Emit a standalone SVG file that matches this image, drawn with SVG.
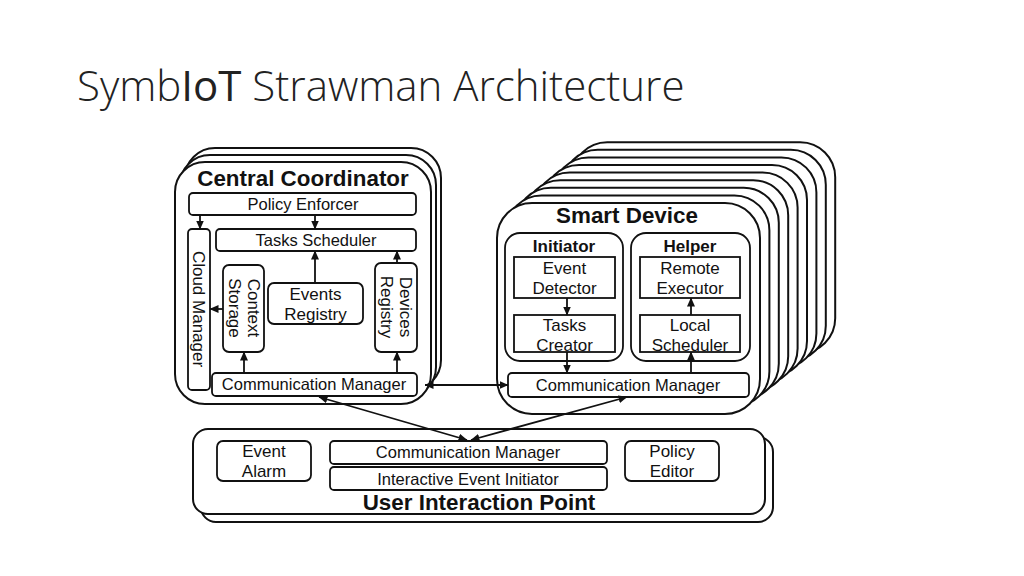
<svg xmlns="http://www.w3.org/2000/svg" width="1024" height="576" viewBox="0 0 1024 576">
<style>
.bg{fill:#fff}
.box{fill:#fff;stroke:#111;stroke-width:2}
.in{fill:#fff;stroke:#111;stroke-width:1.8}
.t{font-family:"Liberation Sans",Arial,sans-serif;font-size:16.5px;fill:#111;text-anchor:middle}
.v{font-size:17px}
.b{font-weight:bold;font-size:22.4px}
.s{font-weight:bold;font-size:17px}
.title{font-family:"Open Sans","Liberation Sans",sans-serif;font-weight:300;font-size:42px;fill:#222}
.c{stroke:#111;stroke-width:1.8;fill:none}
</style>
<defs>
<marker id="ah" markerWidth="9" markerHeight="8" refX="8.5" refY="4" orient="auto-start-reverse" markerUnits="userSpaceOnUse">
<path d="M0,0 L9,4 L0,8 z" fill="#111"/>
</marker>
</defs>
<rect class="bg" width="1024" height="576"/>
<text class="title" x="77" y="101">Symb<tspan font-weight="500">IoT</tspan> Strawman Architecture</text>

<g id="central-coordinator">
<rect class="box" x="185" y="148" width="256" height="242" rx="30"/>
<rect class="box" x="180" y="155" width="256" height="242" rx="30"/>
<rect class="box" x="175" y="162" width="256" height="242" rx="30"/>
<text class="t b" x="303" y="186">Central Coordinator</text>
</g>
<g id="policy-enforcer"><rect class="in" x="189" y="193" width="227" height="22" rx="4"/><text class="t" x="303" y="210">Policy Enforcer</text></g>
<g id="tasks-scheduler"><rect class="in" x="216" y="229" width="200" height="22" rx="4"/><text class="t" x="316" y="246">Tasks Scheduler</text></g>
<g id="cloud-manager"><rect class="in" x="188" y="229" width="22" height="161" rx="4"/><text class="t v" transform="translate(199,309) rotate(90)" y="6">Cloud Manager</text></g>
<g id="context-storage"><rect class="in" x="223" y="265" width="41" height="87" rx="6"/><text class="t v" transform="translate(243.5,308) rotate(90)"><tspan x="0" y="-4">Context</tspan><tspan x="0" y="15">Storage</tspan></text></g>
<g id="events-registry"><rect class="in" x="268" y="283" width="95" height="41" rx="6"/><text class="t v"><tspan x="315.5" y="300">Events</tspan><tspan x="315.5" y="320">Registry</tspan></text></g>
<g id="devices-registry"><rect class="in" x="375" y="263" width="42" height="89" rx="6"/><text class="t v" transform="translate(396,307) rotate(90)"><tspan x="0" y="-4">Devices</tspan><tspan x="0" y="15">Registry</tspan></text></g>
<g id="cc-comm-manager"><rect class="in" x="212" y="373" width="205" height="23" rx="4"/><text class="t" x="314" y="390">Communication Manager</text></g>

<g id="smart-device">
<rect class="box" x="572.2" y="142.2" width="263" height="211" rx="35"/>
<rect class="box" x="562.8" y="149.8" width="263" height="211" rx="35"/>
<rect class="box" x="553.4" y="157.4" width="263" height="211" rx="35"/>
<rect class="box" x="544" y="165" width="263" height="211" rx="35"/>
<rect class="box" x="534.6" y="172.6" width="263" height="211" rx="35"/>
<rect class="box" x="525.2" y="180.2" width="263" height="211" rx="35"/>
<rect class="box" x="515.8" y="187.8" width="263" height="211" rx="35"/>
<rect class="box" x="506.4" y="195.4" width="263" height="211" rx="35"/>
<rect class="box" x="497" y="203" width="263" height="211" rx="35"/>
<text class="t b" x="627" y="223">Smart Device</text>
</g>
<g id="initiator"><rect class="in" x="505" y="233" width="118" height="128" rx="15"/><text class="t s" x="564" y="252">Initiator</text></g>
<g id="event-detector"><rect class="in" x="514" y="257" width="101" height="41"/><text class="t v"><tspan x="564.5" y="274">Event</tspan><tspan x="564.5" y="294">Detector</tspan></text></g>
<g id="tasks-creator"><rect class="in" x="514" y="315" width="101" height="37"/><text class="t v"><tspan x="564.5" y="331">Tasks</tspan><tspan x="564.5" y="351">Creator</tspan></text></g>
<g id="helper"><rect class="in" x="631" y="233" width="119" height="128" rx="15"/><text class="t s" x="690" y="252">Helper</text></g>
<g id="remote-executor"><rect class="in" x="640" y="257" width="100" height="41"/><text class="t v"><tspan x="690" y="274">Remote</tspan><tspan x="690" y="294">Executor</tspan></text></g>
<g id="local-scheduler"><rect class="in" x="640" y="315" width="100" height="37"/><text class="t v"><tspan x="690" y="331">Local</tspan><tspan x="690" y="351">Scheduler</tspan></text></g>
<g id="sd-comm-manager"><rect class="in" x="508" y="373" width="241" height="24" rx="4"/><text class="t" x="628" y="391">Communication Manager</text></g>

<g id="user-interaction-point">
<rect class="box" x="201" y="437" width="572" height="85" rx="15"/>
<rect class="box" x="193" y="429" width="572" height="85" rx="15"/>
<text class="t b" x="479" y="510">User Interaction Point</text>
</g>
<g id="event-alarm"><rect class="in" x="217" y="441" width="94" height="40" rx="6"/><text class="t v"><tspan x="264" y="457">Event</tspan><tspan x="264" y="477">Alarm</tspan></text></g>
<g id="uip-comm-manager"><rect class="in" x="330" y="441" width="277" height="23" rx="4"/><text class="t" x="468" y="458">Communication Manager</text></g>
<g id="interactive-event-initiator"><rect class="in" x="330" y="467" width="277" height="23" rx="4"/><text class="t" x="468" y="485">Interactive Event Initiator</text></g>
<g id="policy-editor"><rect class="in" x="625" y="441" width="94" height="40" rx="6"/><text class="t v"><tspan x="672" y="457">Policy</tspan><tspan x="672" y="477">Editor</tspan></text></g>

<g id="connectors">
<line class="c" x1="200" y1="215" x2="200" y2="229" marker-end="url(#ah)"/>
<line class="c" x1="315" y1="215" x2="315" y2="229" marker-end="url(#ah)"/>
<line class="c" x1="315" y1="283" x2="315" y2="251" marker-end="url(#ah)"/>
<line class="c" x1="397" y1="263" x2="397" y2="251" marker-end="url(#ah)"/>
<line class="c" x1="223" y1="309" x2="210" y2="309" marker-end="url(#ah)"/>
<line class="c" x1="244" y1="373" x2="244" y2="352" marker-end="url(#ah)"/>
<line class="c" x1="397" y1="373" x2="397" y2="352" marker-end="url(#ah)"/>
<line class="c" x1="567" y1="298" x2="567" y2="315" marker-end="url(#ah)"/>
<line class="c" x1="567" y1="352" x2="567" y2="373" marker-end="url(#ah)"/>
<line class="c" x1="691" y1="315" x2="691" y2="298" marker-end="url(#ah)"/>
<line class="c" x1="691" y1="373" x2="691" y2="352" marker-end="url(#ah)"/>
<line class="c" x1="425" y1="385" x2="508" y2="385" marker-start="url(#ah)" marker-end="url(#ah)"/>
<line class="c" x1="319" y1="397" x2="467" y2="440" marker-start="url(#ah)" marker-end="url(#ah)"/>
<line class="c" x1="627" y1="397" x2="471" y2="440" marker-start="url(#ah)" marker-end="url(#ah)"/>
</g>
</svg>
